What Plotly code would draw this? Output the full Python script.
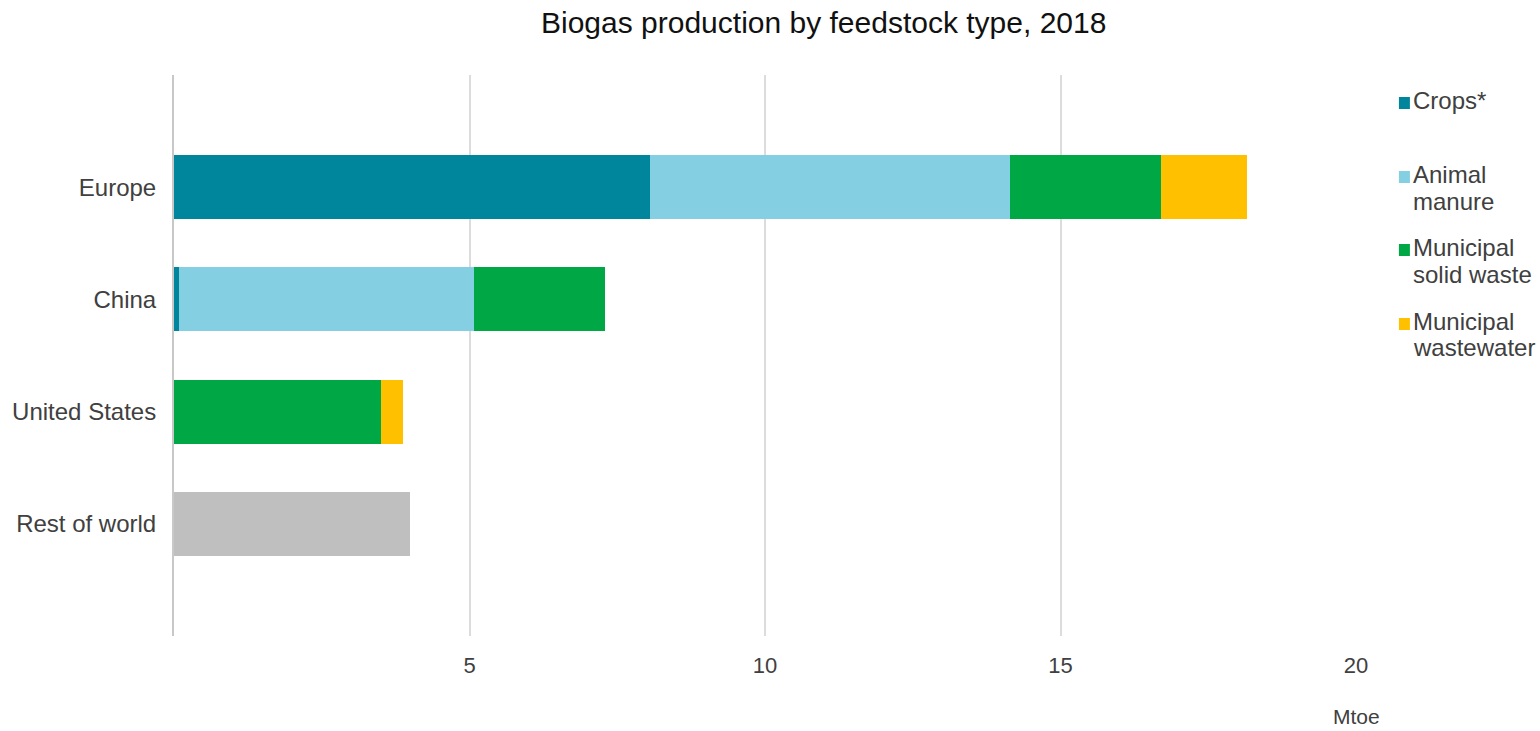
import plotly.graph_objects as go

# Regions (top to bottom) and production by feedstock, Mtoe
regions = ["Europe", "China", "United States", "Rest of world"]
crops = [8.05, 0.09, 0.0, 0.0]
animal_manure = [6.1, 4.99, 0.0, 0.0]
municipal_solid_waste = [2.55, 2.22, 3.5, 0.0]
municipal_wastewater = [1.45, 0.0, 0.37, 0.0]
rest_of_world_total = [0.0, 0.0, 0.0, 4.0]

x_ticks = [5, 10, 15, 20]

series = [
    ("Crops*", crops, "#00869C"),
    ("Animal manure", animal_manure, "#84CFE1"),
    ("Municipal solid waste", municipal_solid_waste, "#00A845"),
    ("Municipal wastewater", municipal_wastewater, "#FFC000"),
]
# Legend text, wrapped the way it is shown beside the chart
legend_lines = [
    ["Crops*"],
    ["Animal", "manure"],
    ["Municipal", "solid waste"],
    ["Municipal", "wastewater"],
]

ypos = list(range(len(regions)))
font_family = "Liberation Sans, Arial, sans-serif"
text_color = "#404040"

# Plot area in pixels
W, H = 1540, 731
L, R, T, B = 172, 184, 75, 95
plot_w = W - L - R
plot_h = H - T - B


def px_x(px):
    return (px - L) / plot_w


def px_y(py):
    return (H - B - py) / plot_h


fig = go.Figure()
for name, vals, color in series:
    fig.add_trace(go.Bar(
        y=ypos, x=vals, name=name, orientation="h",
        marker=dict(color=color, line=dict(width=0)),
        width=0.57, showlegend=False,
    ))
fig.add_trace(go.Bar(
    y=ypos, x=rest_of_world_total, name="Rest of world", orientation="h",
    marker=dict(color="#BFBFBF", line=dict(width=0)),
    width=0.57, showlegend=False,
))

annotations = [
    dict(text="Biogas production by feedstock type, 2018",
         x=px_x(823), y=px_y(23), xref="paper", yref="paper",
         xanchor="center", yanchor="middle", showarrow=False,
         font=dict(size=30, color="#111111")),
    dict(text="Mtoe", x=20, xref="x", y=px_y(716), yref="paper",
         xanchor="center", yanchor="middle", showarrow=False,
         font=dict(size=21, color=text_color)),
]
shapes = []

# Legend: coloured square followed by one or two lines of text
first_line_y = [100, 174, 247, 321]
line_gap = 27
for (name, _, color), lines, y0 in zip(series, legend_lines, first_line_y):
    shapes.append(dict(
        type="rect", xref="paper", yref="paper",
        x0=px_x(1399), x1=px_x(1410), y0=px_y(y0 + 9), y1=px_y(y0 - 3),
        fillcolor=color, line=dict(width=0),
    ))
    for k, line in enumerate(lines):
        annotations.append(dict(
            text=line, x=px_x(1411), y=px_y(y0 + k * line_gap),
            xref="paper", yref="paper", xanchor="left", yanchor="middle",
            showarrow=False, font=dict(size=24, color=text_color),
        ))

fig.update_layout(
    barmode="stack",
    width=W, height=H,
    margin=dict(l=L, r=R, t=T, b=B),
    paper_bgcolor="white", plot_bgcolor="white",
    font=dict(family=font_family, size=22, color=text_color),
    showlegend=False,
    xaxis=dict(
        range=[0, 20], tickvals=x_ticks, ticktext=[str(v) for v in x_ticks],
        showgrid=True, gridcolor="#DCDCDC", gridwidth=1.5,
        zeroline=False, showline=False, ticks="",
        ticklabelstandoff=14,
        tickfont=dict(size=22, color=text_color),
    ),
    yaxis=dict(
        range=[4, -1], tickvals=ypos, ticktext=regions,
        showgrid=False, zeroline=False,
        showline=True, linecolor="#C8C8C8", linewidth=2,
        ticks="", ticklabelstandoff=11,
        tickfont=dict(size=24, color=text_color),
    ),
    annotations=annotations,
    shapes=shapes,
)

fig.write_html("out.html")
